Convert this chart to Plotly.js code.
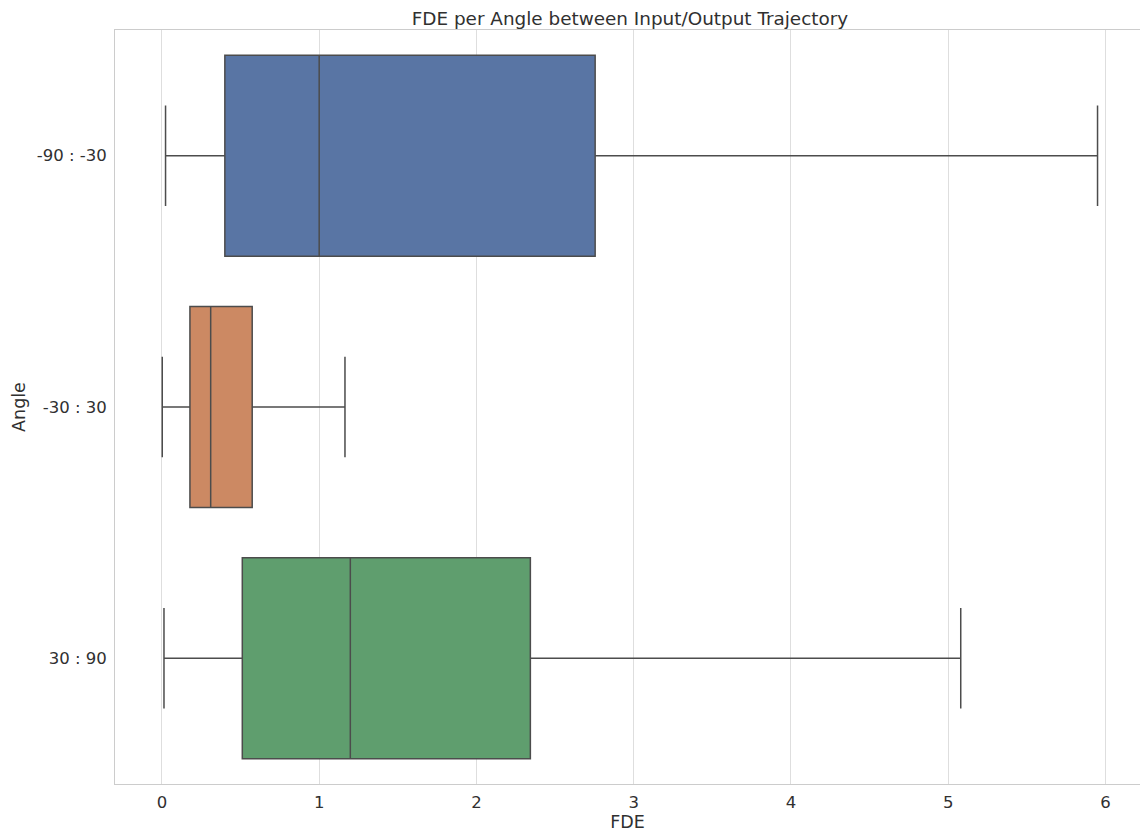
<!DOCTYPE html>
<html>
<head>
<meta charset="utf-8">
<script src="https://cdn.plot.ly/plotly-3.0.1.min.js"></script>
<style>html,body{margin:0;padding:0;overflow:hidden;background:#fff}</style>
</head>
<body>
<div id="chart" style="width:1140px;height:836px"></div>
<script>
const categories = ['-90 : -30', '-30 : 30', '30 : 90'];
const lowerWhisker = [0.023, 0.002, 0.013];
const q1Values = [0.40, 0.178, 0.511];
const medianValues = [1.0, 0.31, 1.198];
const q3Values = [2.755, 0.574, 2.343];
const upperWhisker = [5.95, 1.164, 5.08];
const boxColors = ['#5975A4', '#CC8963', '#5F9E6E'];

const traces = categories.map((c, i) => ({
  type: 'box',
  orientation: 'h',
  y: [c],
  q1: [q1Values[i]],
  median: [medianValues[i]],
  q3: [q3Values[i]],
  lowerfence: [lowerWhisker[i]],
  upperfence: [upperWhisker[i]],
  width: 0.8,
  fillcolor: boxColors[i],
  line: {color: '#4c4c4c', width: 1.5},
  whiskerwidth: 0.5,
  boxpoints: false,
  showlegend: false,
  hoverinfo: 'skip'
}));

const layout = {
  width: 1140, height: 836,
  margin: {l: 115, r: 0, t: 30, b: 52},
  paper_bgcolor: '#ffffff', plot_bgcolor: '#ffffff',
  font: {family: 'DejaVu Sans, sans-serif', color: '#303030', size: 16.5},
  title: {text: 'FDE per Angle between Input/Output Trajectory', font: {size: 18.4, color: '#303030'}, x: 0.5526, xanchor: 'center', y: 0.978, yanchor: 'middle'},
  boxmode: 'overlay',
  xaxis: {
    range: [-0.2985, 6.22],
    tickvals: [0, 1, 2, 3, 4, 5, 6],
    showgrid: true, gridcolor: '#dedede', gridwidth: 1,
    zeroline: false,
    showline: true, linecolor: '#cccccc', linewidth: 1, mirror: true,
    ticks: 'outside', ticklen: 3, tickcolor: 'rgba(0,0,0,0)',
    tickfont: {size: 16.5},
    title: {text: 'FDE', font: {size: 17.5}, standoff: 4}
  },
  yaxis: {
    type: 'category',
    categoryorder: 'array', categoryarray: categories,
    autorange: false, range: [2.5, -0.5],
    showgrid: false, zeroline: false,
    showline: true, linecolor: '#cccccc', linewidth: 1, mirror: true,
    ticks: 'outside', ticklen: 4, tickcolor: 'rgba(0,0,0,0)',
    tickfont: {size: 16.5},
    title: {text: 'Angle', font: {size: 17.5}, standoff: 6}
  }
};

Plotly.newPlot('chart', traces, layout, {displayModeBar: false, staticPlot: true});
</script>
</body>
</html>
